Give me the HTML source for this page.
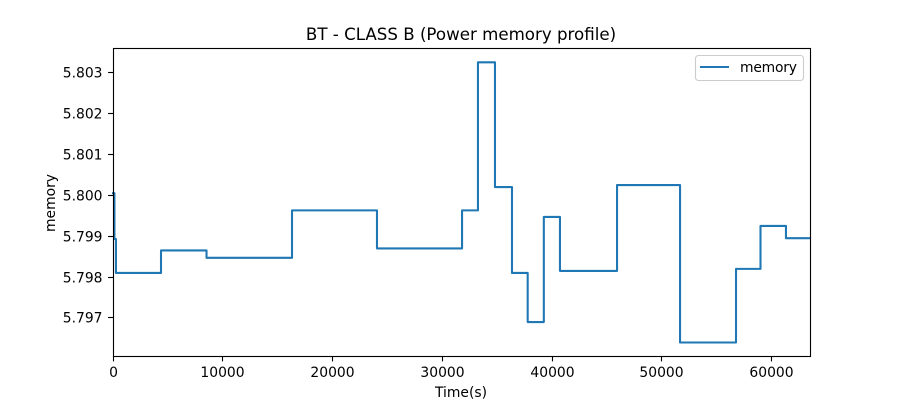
<!DOCTYPE html>
<html>
<head>
<meta charset="utf-8">
<title>BT - CLASS B (Power memory profile)</title>
<style>
html,body{margin:0;padding:0;background:#fff}
svg{display:block;font-family:"DejaVu Sans","Liberation Sans",sans-serif;fill:#000}
</style>
</head>
<body>
<svg id="chart" width="900" height="400" viewBox="0 0 900 400" xmlns="http://www.w3.org/2000/svg">
  <rect x="0" y="0" width="900" height="400" fill="#fff"/>
  <g id="ticks"></g>
  <path id="series" fill="none" stroke="#1f77b4" stroke-width="2.08" stroke-linejoin="round" stroke-linecap="square"></path>
  <rect x="113.5" y="48.5" width="697" height="308" fill="none" stroke="#000" stroke-width="1.11"/>
  <text x="461" y="40" font-size="16.67" text-anchor="middle">BT - CLASS B (Power memory profile)</text>
  <text x="461" y="397" font-size="13.89" text-anchor="middle">Time(s)</text>
  <text transform="translate(55 203) rotate(-90)" font-size="13.89" text-anchor="middle">memory</text>
  <g>
    <rect x="695.5" y="55.5" width="108" height="25" rx="3" ry="3" fill="#fff" fill-opacity="0.8" stroke="#ccc" stroke-width="1.11"/>
    <line x1="700" y1="67" x2="729" y2="67" stroke="#1f77b4" stroke-width="2.08"/>
    <text x="740" y="72" font-size="13.89" textLength="57">memory</text>
  </g>
</svg>
<script>
const stepTimes = [0, 130, 270, 4373, 8520, 16310, 24050, 31800, 33250, 34800, 36350, 37780, 39250, 40720, 45920, 51660, 56760, 58990, 61310];
const stepValues = [5.80005, 5.79893, 5.7981, 5.79865, 5.79847, 5.79963, 5.7987, 5.79963, 5.80325, 5.8002, 5.7981, 5.7969, 5.79947, 5.79815, 5.80025, 5.7964, 5.7982, 5.79925, 5.79895];
const endTime = 63500;
const xTickValues = [0, 10000, 20000, 30000, 40000, 50000, 60000];
const yTickValues = [5.797, 5.798, 5.799, 5.800, 5.801, 5.802, 5.803];

const X_MIN = 0, X_MAX = 63500, Y_MIN = 5.79607, Y_MAX = 5.8036;
const LEFT = 113, RIGHT = 810, TOP = 48, BOTTOM = 356;
function xScale(t) { return LEFT + (t - X_MIN) / (X_MAX - X_MIN) * (RIGHT - LEFT); }
function yScale(v) { return BOTTOM - (v - Y_MIN) / (Y_MAX - Y_MIN) * (BOTTOM - TOP); }

const NS = 'http://www.w3.org/2000/svg';
const ticks = document.getElementById('ticks');

xTickValues.forEach(function (t) {
  const px = Math.floor(xScale(t)) + 0.5;
  const mark = document.createElementNS(NS, 'line');
  
  
  mark.setAttribute('x1', px);
  mark.setAttribute('x2', px);
  mark.setAttribute('y1', BOTTOM);
  mark.setAttribute('y2', BOTTOM + 5.4);
  mark.setAttribute('stroke', '#000');
  mark.setAttribute('stroke-width', '1.11');
  ticks.appendChild(mark);
  const label = document.createElementNS(NS, 'text');
  
  
  label.setAttribute('x', px);
  label.setAttribute('y', 377);
  label.setAttribute('font-size', '13.89');
  label.setAttribute('text-anchor', 'middle');
  label.textContent = String(t);
  ticks.appendChild(label);
});

yTickValues.forEach(function (v) {
  const py = Math.floor(yScale(v)) + 0.5;
  const mark = document.createElementNS(NS, 'line');
  
  
  mark.setAttribute('x1', LEFT - 4.9);
  mark.setAttribute('x2', LEFT);
  mark.setAttribute('y1', py);
  mark.setAttribute('y2', py);
  mark.setAttribute('stroke', '#000');
  mark.setAttribute('stroke-width', '1.11');
  ticks.appendChild(mark);
  const label = document.createElementNS(NS, 'text');
  
  
  label.setAttribute('x', LEFT - 10.5);
  label.setAttribute('y', py + 5);
  label.setAttribute('font-size', '13.89');
  label.setAttribute('text-anchor', 'end');
  label.textContent = v.toFixed(3);
  ticks.appendChild(label);
});

let d = '';
stepTimes.forEach(function (t, i) {
  const px = xScale(t).toFixed(2);
  if (i === 0) {
    d += 'M' + px + ' ' + yScale(stepValues[i]).toFixed(2);
  } else {
    d += 'L' + px + ' ' + yScale(stepValues[i - 1]).toFixed(2);
    d += 'L' + px + ' ' + yScale(stepValues[i]).toFixed(2);
  }
});
d += 'L' + xScale(endTime).toFixed(2) + ' ' + yScale(stepValues[stepValues.length - 1]).toFixed(2);
document.getElementById('series').setAttribute('d', d);
</script>
</body>
</html>
